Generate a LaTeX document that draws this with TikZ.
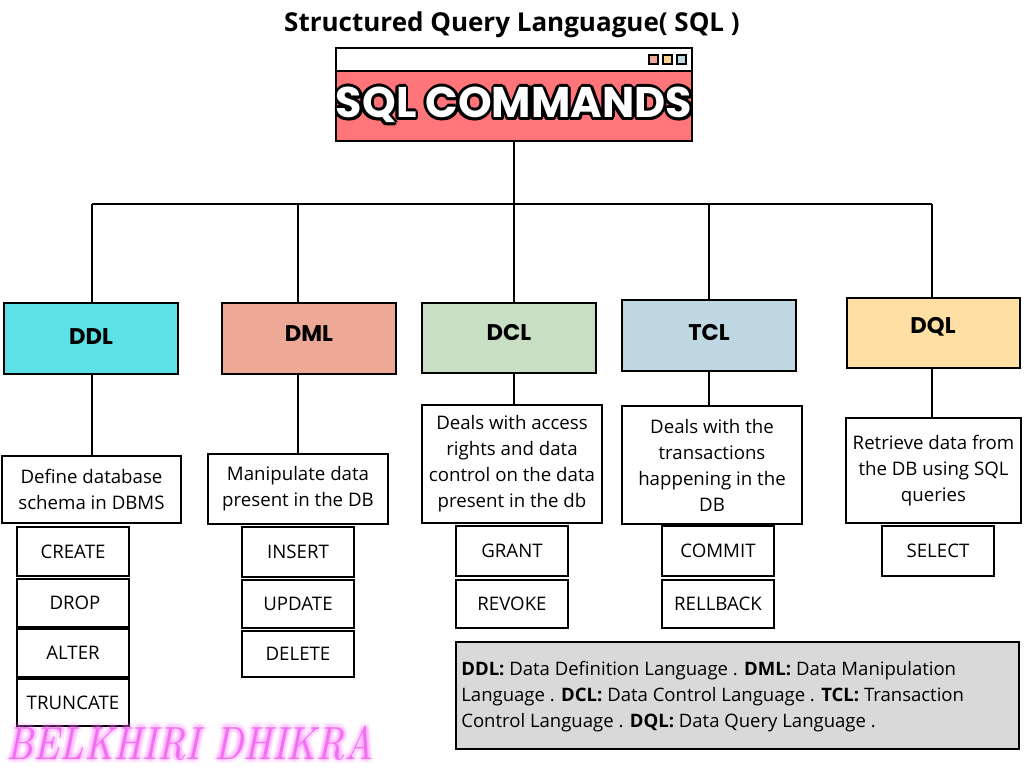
\documentclass[tikz,border=0pt]{standalone}
\usepackage{fontspec}
\setmainfont{Open Sans}
\newfontfamily\pop{Poppins}
\newfontfamily\lmr{Latin Modern Roman}
\usetikzlibrary{fit,calc}
\definecolor{cddl}{HTML}{5CE1E6}
\definecolor{cdml}{HTML}{EEA996}
\definecolor{cdcl}{HTML}{C8DFC4}
\definecolor{ctcl}{HTML}{BFD7E1}
\definecolor{cdql}{HTML}{FFDFA3}
\definecolor{cred}{HTML}{FF7579}
\definecolor{legendgray}{HTML}{D9D9D9}
\definecolor{sqa}{HTML}{F3A69B}
\definecolor{sqb}{HTML}{FBD58E}
\definecolor{sqc}{HTML}{C0D8DF}
\definecolor{neon}{HTML}{F070F0}
\definecolor{neonglow}{HTML}{FF80FF}
\newcommand\sqlcmdtext{\resizebox{267pt}{!}{\pop\bfseries SQL COMMANDS}}
\newcommand\wmtext{\resizebox{275pt}{25pt}{\lmr\itshape BELKHIRI DHIKRA}}
\begin{document}
\begin{tikzpicture}[x=0.75pt,y=-0.75pt,
  box/.style={draw=black, line width=1.4pt, inner sep=0pt},
  txt/.style={inner sep=0pt, align=center, font=\fontsize{14}{19.5}\selectfont},
  cattxt/.style={inner sep=0pt, font=\pop\bfseries\fontsize{17}{20}\selectfont},
  conn/.style={line width=1.4pt}]
\useasboundingbox[fill=white] (0,0) rectangle (1024,768);

% title
\node[font=\bfseries\fontsize{19.5}{22}\selectfont] (title) at (512,25) {Structured Query Languague( SQL )};

% window
\node[fill=white, inner sep=0pt, fit={(336,48)(692,141)}] (win) {};
\fill[cred] (win.west |- 0,71) rectangle (win.south east);
\draw[line width=1.4pt] (win.west |- 0,71) -- (win.east |- 0,71);
\draw[line width=1.4pt] (win.north west) rectangle (win.south east);
\draw[line width=1.1pt, fill=sqa] (649,55) rectangle (658,64);
\draw[line width=1.1pt, fill=sqb] (663,55) rectangle (672,64);
\draw[line width=1.1pt, fill=sqc] (677,55) rectangle (686,64);
\foreach \a in {0,30,...,330}{
  \node[inner sep=0pt, text=black] at ([shift={(\a:2.8)}]514,105) {\sqlcmdtext};
}
\node[inner sep=0pt, text=white] (sqltxt) at (514,105) {\sqlcmdtext};

% category boxes
\node[box, fill=cddl, fit={(4,303)(178,374)}] (ddl) {};
\node[box, fill=cdml, fit={(222,303)(396,374)}] (dml) {};
\node[box, fill=cdcl, fit={(422,303)(596,373)}] (dcl) {};
\node[box, fill=ctcl, fit={(622,300)(796,371)}] (tcl) {};
\node[box, fill=cdql, fit={(847,298)(1020,368)}] (dql) {};
\node[cattxt] (ddlc) at (91,337) {DDL};
\node[cattxt] (dmlc) at (309,334) {DML};
\node[cattxt] (dclc) at (509,333) {DCL};
\node[cattxt] (tclc) at (709,333) {TCL};
\node[cattxt] (dqlc) at (933,327) {DQL};

% descriptions
\node[box, fit={(2,456)(181,523)}] (ddld) {};
\node[box, fit={(208,454)(388,524)}] (dmld) {};
\node[box, fit={(422,405)(602,523)}] (dcld) {};
\node[box, fit={(622,406)(802,524)}] (tcld) {};
\node[box, fit={(846,418)(1021,523)}] (dqld) {};
\node[txt] (ddlt) at (ddld.center) {Define database\\schema in DBMS};
\node[txt] (dmlt) at (dmld.center) {Manipulate data\\present in the DB};
\node[txt] (dclt) at (dcld.center) {Deals with access\\rights and data\\control on the data\\present in the db};
\node[txt] (tclt) at (tcld.center) {Deals with the\\transactions\\happening in the\\DB};
\node[txt] (dqlt) at (dqld.center) {Retrieve data from\\the DB using SQL\\queries};

% commands
\node[box, fit={(17,527)(129,576)}] (create) {};
\node[box, fit={(17,579)(129,627)}] (drop) {};
\node[box, fit={(17,629)(129,677)}] (alter) {};
\node[box, fit={(17,679)(129,726)}] (truncate) {};
\node[box, fit={(242,527)(354,577)}] (insert) {};
\node[box, fit={(242,580)(354,628)}] (update) {};
\node[box, fit={(242,631)(354,677)}] (delete) {};
\node[box, fit={(456,526)(568,576)}] (grant) {};
\node[box, fit={(456,580)(568,628)}] (revoke) {};
\node[box, fit={(662,526)(774,576)}] (commit) {};
\node[box, fit={(662,580)(774,628)}] (rellback) {};
\node[box, fit={(882,526)(994,576)}] (select) {};
\node[txt] (createt) at (create.center) {CREATE};
\node[txt] (dropt) at ([shift={(2,0)}]drop.center) {DROP};
\node[txt] (altert) at (alter.center) {ALTER};
\node[txt] (truncatet) at (truncate.center) {TRUNCATE};
\node[txt] (insertt) at (insert.center) {INSERT};
\node[txt] (updatet) at (update.center) {UPDATE};
\node[txt] (deletet) at (delete.center) {DELETE};
\node[txt] (grantt) at (grant.center) {GRANT};
\node[txt] (revoket) at (revoke.center) {REVOKE};
\node[txt] (committ) at (commit.center) {COMMIT};
\node[txt] (rellbackt) at (rellback.center) {RELLBACK};
\node[txt] (selectt) at (select.center) {SELECT};

% legend
\node[box, fill=legendgray, fit={(456,642)(1019,749)}] (legend) {};
\node[txt, align=left, anchor=west, font=\fontsize{13.9}{19.5}\selectfont] (legendt) at ([shift={(6,1)}]legend.west)
{\textbf{DDL:} Data Definition Language . \textbf{DML:} Data Manipulation\\
Language . \textbf{DCL:} Data Control Language . \textbf{TCL:} Transaction\\
Control Language . \textbf{DQL:} Data Query Language .};

% connectors
\coordinate (hub) at (514,204);
\coordinate (j1) at (92,204);
\coordinate (j2) at (298,204);
\coordinate (j4) at (709,204);
\coordinate (j5) at (932,204);
\draw[conn] (win.south) -- (hub);
\draw[conn] (j1) -- (j5);
\draw[conn] (j1) -- (j1 |- ddl.north);
\draw[conn] (j2) -- (j2 |- dml.north);
\draw[conn] (hub) -- (hub |- dcl.north);
\draw[conn] (j4) -- (j4 |- tcl.north);
\draw[conn] (j5) -- (j5 |- dql.north);
\draw[conn] (j1 |- ddl.south) -- (j1 |- ddld.north);
\draw[conn] (j2 |- dml.south) -- (j2 |- dmld.north);
\draw[conn] (hub |- dcl.south) -- (hub |- dcld.north);
\draw[conn] (j4 |- tcl.south) -- (j4 |- tcld.north);
\draw[conn] (j5 |- dql.south) -- (j5 |- dqld.north);

% watermark
\foreach \r/\o in {4.5/0.09,2.5/0.15}{
  \foreach \a in {0,45,...,315}{
    \node[inner sep=0pt, text=neonglow, opacity=\o] at ([shift={(\a:\r)}]190,743) {\wmtext};
  }
}
\node[inner sep=0pt, text=neon] (wm) at (190,743) {\wmtext};
\end{tikzpicture}
\end{document}
